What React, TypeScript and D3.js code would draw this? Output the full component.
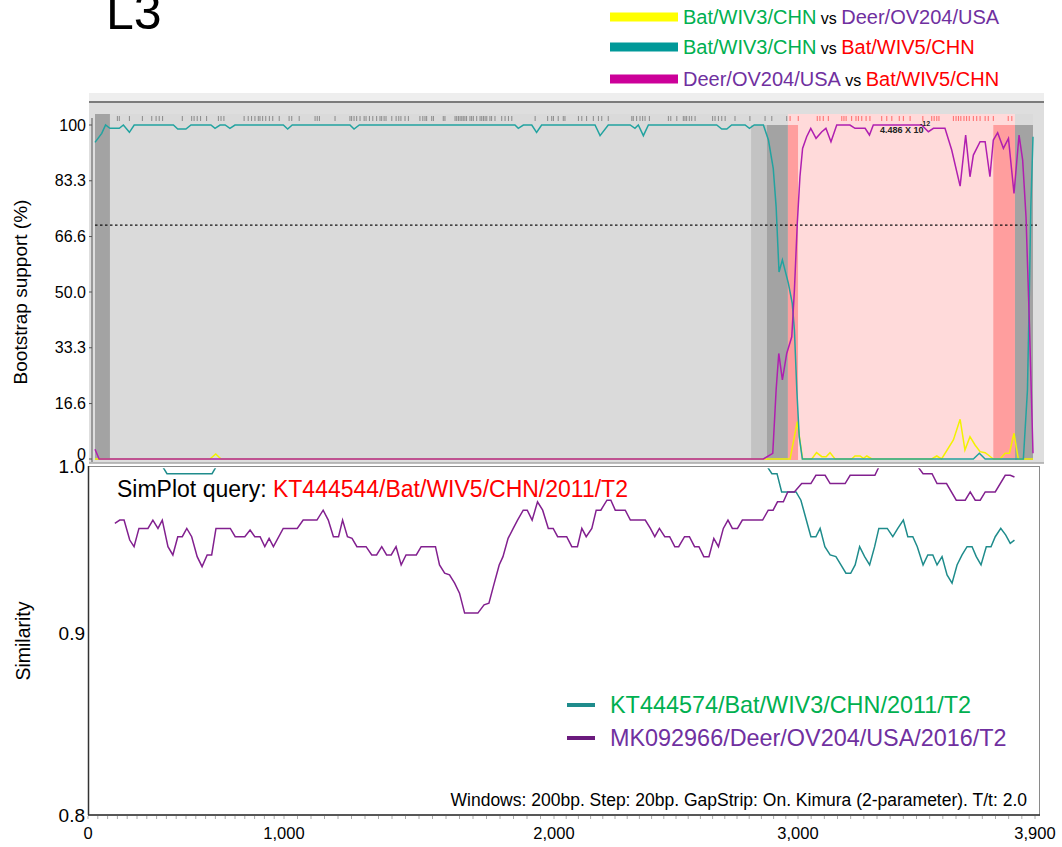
import React from "react";
import * as d3 from "d3";

type P = [number, number];

// ---------- Bootstrap panel data (alignment position bp, bootstrap %) ----------
const bootWIV3vsDeer: P[] = [
  [0, 0], [478, 0], [502, 1.5], [524, 0], [2890, 0], [2920, 11.2], [2942, 0], [2980, 0],
  [3000, 1.9], [3022, 0.7], [3040, 0.7], [3056, 1.9], [3077, 0], [3146, 0], [3160, 0.9],
  [3181, 0.9], [3195, 0.2], [3209, 0.9], [3230, 0], [3479, 0], [3500, 0.9], [3520, 0],
  [3569, 5.7], [3597, 11.9], [3617, 2.7], [3638, 6.7], [3659, 4.2], [3680, 2.2], [3701, 1.9],
  [3714, 1.2], [3735, 0], [3763, 0], [3784, 1.7], [3802, 1.7], [3821, 7.7], [3839, 0], [3900, 0],
];

const bootWIV3vsWIV5: P[] = [
  [0, 94.8], [28, 97.5], [44, 100], [62, 99], [101, 99], [118, 100], [143, 97.8], [163, 100],
  [326, 100], [344, 98.8], [378, 98.8], [399, 100], [482, 100], [499, 99], [520, 100], [541, 100],
  [561, 99], [582, 100], [783, 100], [801, 98.8], [820, 100], [1060, 100], [1077, 98.8], [1099, 100],
  [1746, 100], [1760, 99], [1781, 100], [1816, 100], [1836, 97.8], [1857, 100], [2079, 100],
  [2100, 96.8], [2134, 100], [2225, 100], [2245, 99], [2259, 100], [2280, 96.8], [2301, 100],
  [2585, 100], [2606, 98.8], [2627, 98.8], [2647, 100], [2703, 100], [2721, 99], [2741, 100],
  [2779, 100], [2800, 95.5], [2820, 87], [2832, 75.5], [2844, 56], [2858, 59.6], [2883, 52.6],
  [2899, 46.6], [2908, 38.6], [2918, 20.7], [2928, 6.7], [2941, 0], [3652, 0], [3677, 1.7],
  [3701, 0], [3860, 0], [3877, 20.7], [3885, 50.6], [3891, 75.5], [3900, 96.5],
];

const bootDeervsWIV5: P[] = [
  [0, 2.9], [17, 0], [2779, 0], [2818, 1.7], [2832, 20.7], [2843, 31.6], [2858, 23.7],
  [2876, 31.6], [2897, 36.6], [2908, 50.6], [2920, 70.6], [2931, 84.5], [2942, 93], [2959, 96.5],
  [2976, 99], [2998, 96], [3022, 98], [3039, 99], [3060, 95], [3084, 100], [3139, 100], [3160, 99],
  [3202, 99], [3220, 97], [3236, 100], [3437, 100], [3465, 98], [3486, 99], [3534, 99],
  [3562, 92.5], [3597, 81.7], [3620, 97], [3638, 84.5], [3652, 91], [3680, 95], [3701, 95],
  [3721, 84.5], [3735, 95.5], [3753, 97.7], [3777, 93], [3798, 96], [3821, 79.5], [3842, 97],
  [3857, 89.5], [3871, 72.5], [3885, 40.6], [3900, 1.7],
];

const bootTickValues = [0, 16.6, 33.3, 50.0, 66.6, 83.3, 100];
const bootTickLabels = ["0", "16.6", "33.3", "50.0", "66.6", "83.3", "100"];
const bootThreshold = 70;

// informative sites (bp)
const informativeSites = [
  93, 101, 143, 197, 236, 254, 267, 281, 363, 402, 412, 425, 439, 464, 513, 524, 536, 620, 637,
  651, 665, 679, 686, 697, 710, 725, 739, 766, 807, 818, 849, 915, 924, 933, 998, 1060, 1067,
  1077, 1088, 1102, 1119, 1127, 1141, 1155, 1171, 1185, 1192, 1202, 1210, 1234, 1252, 1263,
  1272, 1289, 1303, 1351, 1363, 1372, 1379, 1400, 1407, 1448, 1455, 1497, 1504, 1511, 1518,
  1525, 1531, 1538, 1545, 1559, 1566, 1573, 1587, 1601, 1608, 1615, 1622, 1629, 1642, 1649,
  1663, 1691, 1705, 1719, 1733, 1830, 1882, 1899, 1906, 1926, 1947, 1954, 2010, 2024, 2044,
  2072, 2093, 2107, 2134, 2232, 2238, 2252, 2266, 2277, 2287, 2305, 2384, 2394, 2419, 2446,
  2453, 2460, 2471, 2481, 2495, 2568, 2578, 2592, 2606, 2620, 2661, 2723, 2786, 2814,
  2876, 2890, 2924, 3003, 3014, 3028, 3049, 3105, 3114, 3123, 3146, 3164, 3174, 3188, 3206,
  3222, 3271, 3292, 3313, 3344, 3361, 3389, 3442, 3479, 3489, 3500, 3509, 3569, 3580, 3590,
  3600, 3613, 3624, 3635, 3652, 3666, 3680, 3701, 3714, 3735, 3797, 3812,
];

// recombinant region (bp)
const recombStart = 2881;
const recombEnd = 3825;

// shaded bands
const bandStarts = [0, 2728, 2794, 2881, 3735, 3825];
const bandEnds = [62, 2794, 2881, 2923, 3825, 3900];
const bandKinds = ["darkFull", "medium", "dark", "red", "red", "dark"];

// ---------- Similarity panel data (bp, similarity) ----------
const simWIV3: P[] = [
  [137, 1.0], [382, 1.0], [403, 0.996], [633, 0.996], [653, 1.0], [2875, 1.0], [2893, 0.996],
  [2914, 0.996], [2933, 0.985], [2992, 0.985], [3011, 0.98], [3030, 0.969], [3049, 0.958],
  [3068, 0.958], [3084, 0.963], [3102, 0.952], [3122, 0.947], [3144, 0.946], [3163, 0.941],
  [3182, 0.936], [3200, 0.936], [3217, 0.941], [3234, 0.952], [3253, 0.946], [3272, 0.941],
  [3291, 0.952], [3307, 0.963], [3339, 0.963], [3360, 0.958], [3379, 0.963], [3400, 0.968],
  [3417, 0.958], [3436, 0.958], [3453, 0.952], [3475, 0.941], [3493, 0.947], [3512, 0.947],
  [3528, 0.941], [3547, 0.946], [3566, 0.935], [3585, 0.93], [3604, 0.941], [3623, 0.947],
  [3642, 0.952], [3661, 0.952], [3677, 0.946], [3695, 0.941], [3715, 0.952], [3733, 0.952],
  [3749, 0.958], [3770, 0.963], [3789, 0.959], [3806, 0.954], [3822, 0.956],
];

const simDeer: P[] = [
  [137, 0.966], [162, 0.968], [184, 0.968], [213, 0.956], [235, 0.952], [260, 0.963], [306, 0.963],
  [331, 0.968], [357, 0.963], [379, 0.968], [408, 0.952], [433, 0.947], [458, 0.958], [481, 0.958],
  [504, 0.963], [529, 0.958], [557, 0.946], [582, 0.94], [608, 0.947], [631, 0.947], [653, 0.963],
  [726, 0.963], [751, 0.958], [800, 0.958], [827, 0.962], [851, 0.958], [878, 0.958], [902, 0.952],
  [924, 0.957], [946, 0.952], [996, 0.963], [1049, 0.963], [1071, 0.968], [1122, 0.968],
  [1145, 0.974], [1164, 0.968], [1183, 0.958], [1202, 0.958], [1217, 0.968], [1235, 0.958],
  [1252, 0.957], [1270, 0.952], [1304, 0.952], [1325, 0.947], [1343, 0.947], [1362, 0.952],
  [1380, 0.947], [1397, 0.947], [1415, 0.952], [1434, 0.941], [1452, 0.947], [1490, 0.947],
  [1508, 0.952], [1561, 0.952], [1576, 0.941], [1595, 0.936], [1613, 0.935], [1632, 0.93],
  [1650, 0.924], [1669, 0.912], [1718, 0.912], [1741, 0.917], [1759, 0.918], [1777, 0.929],
  [1797, 0.941], [1811, 0.946], [1830, 0.957], [1849, 0.963], [1865, 0.968], [1886, 0.974],
  [1901, 0.974], [1919, 0.968], [1939, 0.979], [1958, 0.974], [1979, 0.963], [1997, 0.963],
  [2015, 0.958], [2052, 0.958], [2073, 0.952], [2096, 0.952], [2114, 0.963], [2132, 0.958],
  [2155, 0.963], [2173, 0.974], [2192, 0.974], [2217, 0.98], [2233, 0.98], [2251, 0.974],
  [2292, 0.974], [2313, 0.968], [2374, 0.968], [2395, 0.963], [2413, 0.958], [2432, 0.963],
  [2454, 0.958], [2474, 0.958], [2495, 0.952], [2511, 0.952], [2535, 0.958], [2555, 0.958],
  [2576, 0.952], [2594, 0.952], [2614, 0.946], [2635, 0.946], [2655, 0.957], [2674, 0.952],
  [2694, 0.963], [2713, 0.968], [2731, 0.963], [2752, 0.963], [2772, 0.968], [2855, 0.968],
  [2878, 0.974], [2898, 0.974], [2916, 0.979], [2940, 0.979], [2958, 0.985], [2985, 0.985],
  [3014, 0.99], [3049, 0.99], [3068, 0.995], [3103, 0.995], [3122, 0.99], [3179, 0.99],
  [3198, 0.995], [3292, 0.995], [3307, 1.0], [3456, 1.0], [3475, 0.996], [3509, 0.996],
  [3528, 0.99], [3564, 0.99], [3601, 0.98], [3635, 0.98], [3654, 0.985], [3673, 0.98],
  [3692, 0.98], [3711, 0.985], [3749, 0.985], [3787, 0.995], [3806, 0.995], [3822, 0.994],
];

const simYTicks = [0.8, 0.9, 1.0];
const simYLabels = ["0.8", "0.9", "1.0"];
const xTickValues = [0, 1000, 2000, 3000, 3900];
const xTickLabels = ["0", "1,000", "2,000", "3,000", "3,900"];

const FONT = "'Liberation Sans', Arial, Helvetica, sans-serif";
const GREEN = "#00b050";
const PURPLE_TXT = "#7030a0";
const RED = "#ff0000";

export default function App() {
  const xB = d3.scaleLinear().domain([0, 3900]).range([95, 1033]);
  const yB = d3.scaleLinear().domain([0, 100]).range([459, 125]);
  const xS = d3.scaleLinear().domain(xTickValues).range([88, 284, 554, 798, 1035]);
  const yS = d3.scaleLinear().domain(simYTicks).range([815, 633, 467]);

  const lineB = d3.line<P>().x((d) => xB(d[0])).y((d) => yB(d[1]));
  const lineS = d3.line<P>().x((d) => xS(d[0])).y((d) => yS(d[1]));

  const bandFill: Record<string, string> = {
    darkFull: "#a3a3a3",
    dark: "#a3a3a3",
    medium: "#c3c3c3",
    red: "#ff9e9e",
  };

  const plotTop = 114;
  const plotBottom = 460;
  const minorTicks = d3.range(0, 3901, 50);

  return (
    <svg
      width={1062}
      height={847}
      style={{ position: "absolute", left: 0, top: 0, background: "#fff" }}
      fontFamily={FONT}
    >
      <defs>
        <clipPath id="simClip">
          <rect x={89} y={yS(1.0) + 1.2} width={950} height={yS(0.8) - yS(1.0) - 1.2} />
        </clipPath>
      </defs>

      <text x={106} y={29} fontSize={50} fill="#000">L3</text>

      {[
        { c: "#ffff00", a: "Bat/WIV3/CHN", ac: GREEN, b: "Deer/OV204/USA", bc: PURPLE_TXT },
        { c: "#009999", a: "Bat/WIV3/CHN", ac: GREEN, b: "Bat/WIV5/CHN", bc: RED },
        { c: "#cc0099", a: "Deer/OV204/USA", ac: PURPLE_TXT, b: "Bat/WIV5/CHN", bc: RED },
      ].map((r, i) => {
        const cy = [17, 47, 79][i];
        return (
          <g key={i}>
            <rect x={610} y={cy - 4.5} width={68} height={9} fill={r.c} />
            <text x={683} y={cy + 7} fontSize={20}>
              <tspan fill={r.ac}>{r.a}</tspan>
              <tspan fill="#000" fontSize={16}> vs </tspan>
              <tspan fill={r.bc}>{r.b}</tspan>
            </text>
          </g>
        );
      })}

      <rect x={89} y={93} width={955} height={370} fill="#dedede" />
      <rect x={89} y={93} width={955} height={8} fill="#eeeeee" />
      <line x1={89} x2={1044} y1={102} y2={102} stroke="#7c7c7c" strokeWidth={2} />
      <line x1={89} x2={1044} y1={463} y2={463} stroke="#a8a8a8" strokeWidth={1.5} />
      <rect x={xB(0)} y={plotTop} width={xB(3900) - xB(0)} height={plotBottom - plotTop} fill="#dadada" />

      <rect
        x={xB(recombStart)}
        y={plotTop}
        width={xB(recombEnd) - xB(recombStart)}
        height={plotBottom - plotTop}
        fill="#ffdada"
      />
      {bandStarts.map((s, i) => {
        const full = bandKinds[i] === "darkFull";
        const top = full ? plotTop : yB(100);
        return (
          <rect
            key={i}
            x={xB(s)}
            y={top}
            width={xB(bandEnds[i]) - xB(s)}
            height={plotBottom - top}
            fill={bandFill[bandKinds[i]]}
          />
        );
      })}

      {informativeSites.map((s, i) => {
        const inRec = s >= recombStart && s <= recombEnd;
        return (
          <line
            key={i}
            x1={xB(s)}
            x2={xB(s)}
            y1={116}
            y2={121}
            stroke={inRec ? "#ff6a6a" : "#8a8a8a"}
            strokeWidth={1}
          />
        );
      })}

      <line
        x1={xB(0)}
        x2={1037}
        y1={yB(bootThreshold)}
        y2={yB(bootThreshold)}
        stroke="#111"
        strokeWidth={1.2}
        strokeDasharray="2.5,2.5"
      />

      <path d={lineB(bootWIV3vsDeer) || ""} fill="none" stroke="#f2f200" strokeWidth={1.5} />
      <path d={lineB(bootWIV3vsWIV5) || ""} fill="none" stroke="#22a3a0" strokeWidth={1.5} />
      <path d={lineB(bootDeervsWIV5) || ""} fill="none" stroke="#b01fb0" strokeWidth={1.5} />

      <text x={880} y={133} fontSize={9} fontWeight="bold" fill="#222">4.486 X 10</text>
      <text x={920} y={126} fontSize={7} fontWeight="bold" fill="#222">-12</text>

      <line x1={92} x2={92} y1={118} y2={462} stroke="#555" strokeWidth={1} />
      {bootTickValues.map((v, i) => (
        <g key={i}>
          <line x1={89} x2={92} y1={yB(v)} y2={yB(v)} stroke="#555" />
          <text
            x={86}
            y={yB(v) - (v === 0 ? 5 : 0)}
            dy="0.35em"
            textAnchor="end"
            fontSize={16}
            fill="#000"
          >
            {bootTickLabels[i]}
          </text>
        </g>
      ))}
      <text
        transform="translate(27,292) rotate(-90)"
        textAnchor="middle"
        fontSize={19}
        fill="#000"
      >
        Bootstrap support (%)
      </text>

      <rect x={88.5} y={yS(1.0) - 0.5} width={951} height={yS(0.8) - yS(1.0) + 0.5} fill="#fff" stroke="#8a8a8a" strokeWidth={1} />
      <g clipPath="url(#simClip)">
        <path d={lineS(simWIV3) || ""} fill="none" stroke="#1f8c8c" strokeWidth={1.5} />
        <path d={lineS(simDeer) || ""} fill="none" stroke="#82208f" strokeWidth={1.5} />
      </g>
      <line x1={88.5} x2={88.5} y1={yS(1.0) - 1} y2={yS(0.8)} stroke="#333" strokeWidth={1.5} />
      <line x1={88} x2={1040} y1={yS(0.8)} y2={yS(0.8)} stroke="#333" strokeWidth={1.5} />
      {minorTicks.map((t) => (
        <line key={t} x1={xS(t)} x2={xS(t)} y1={yS(0.8) + 1} y2={yS(0.8) + 4} stroke="#aaa" strokeWidth={1} />
      ))}

      {simYTicks.map((v, i) => (
        <text key={i} x={85} y={yS(v) - (v === 1.0 ? 1 : 0)} dy="0.35em" textAnchor="end" fontSize={19} fill="#000">
          {simYLabels[i]}
        </text>
      ))}
      {xTickValues.map((v, i) => (
        <text key={i} x={xS(v)} y={839} textAnchor="middle" fontSize={16.5} fill="#000">
          {xTickLabels[i]}
        </text>
      ))}
      <text transform="translate(30,641) rotate(-90)" textAnchor="middle" fontSize={19.5} fill="#000">
        Similarity
      </text>

      <text x={117} y={497} fontSize={23}>
        <tspan fill="#000">SimPlot query: </tspan>
        <tspan fill={RED}>KT444544/Bat/WIV5/CHN/2011/T2</tspan>
      </text>

      <line x1={567} x2={595} y1={705} y2={705} stroke="#1f8c8c" strokeWidth={4} />
      <text x={610} y={713} fontSize={23.4} fill={GREEN}>KT444574/Bat/WIV3/CHN/2011/T2</text>
      <line x1={567} x2={595} y1={738} y2={738} stroke="#6b1a7d" strokeWidth={4} />
      <text x={610} y={746} fontSize={23.4} fill={PURPLE_TXT}>MK092966/Deer/OV204/USA/2016/T2</text>

      <text x={1027} y={806} textAnchor="end" fontSize={17.5} fill="#000">
        Windows: 200bp. Step: 20bp. GapStrip: On. Kimura (2-parameter). T/t: 2.0
      </text>
    </svg>
  );
}
